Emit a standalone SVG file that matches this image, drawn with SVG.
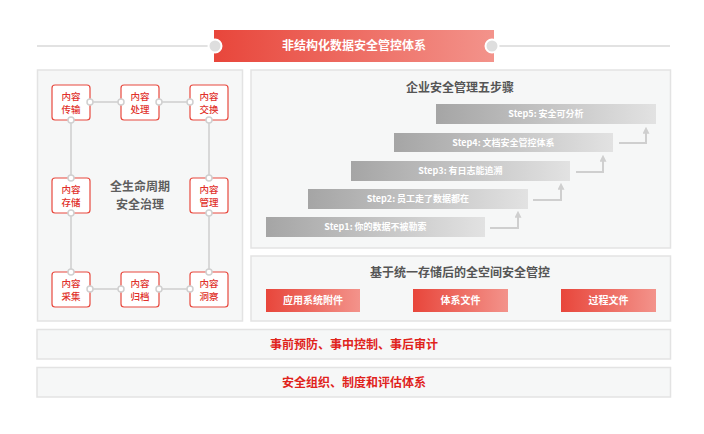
<svg xmlns="http://www.w3.org/2000/svg" width="704" height="434" viewBox="0 0 704 434">
<defs>
<linearGradient id="red" x1="0" y1="0" x2="1" y2="0"><stop offset="0" stop-color="#e8463b"/><stop offset="1" stop-color="#f3938b"/></linearGradient>
<linearGradient id="grey" x1="0" y1="0" x2="1" y2="0"><stop offset="0" stop-color="#a5a5a5"/><stop offset="1" stop-color="#e2e2e2"/></linearGradient>
<marker id="arr" viewBox="0 0 8 8" refX="2" refY="4" markerWidth="7" markerHeight="7" markerUnits="userSpaceOnUse" orient="auto"><path d="M0,0 L8,4 L0,8 z" fill="#cfcfcf"/></marker>
<style>
.panel{fill:#f6f7f7;stroke:#e3e3e3;stroke-width:1.5}
.node{fill:#fff;stroke:#e8493e;stroke-width:1.2}
.nt{font-family:"Noto Sans CJK SC","Noto Sans",sans-serif;font-size:9.5px;fill:#e0302a;text-anchor:middle;font-weight:500}
.con{stroke:#d8d8d8;stroke-width:2;fill:none}
.dot{fill:#fff;stroke:#d0d0d0;stroke-width:1.5}
.wt{font-family:"Noto Sans CJK SC","Noto Sans",sans-serif;font-size:10px;fill:#fff;text-anchor:middle;font-weight:bold}
.st{font-family:"Noto Sans CJK SC","Noto Sans",sans-serif;font-size:9px;fill:#fff;text-anchor:middle;font-weight:bold}
.gt{font-family:"Noto Sans CJK SC","Noto Sans",sans-serif;font-size:12px;fill:#555;text-anchor:middle;font-weight:bold}
.rt{font-family:"Noto Sans CJK SC","Noto Sans",sans-serif;font-size:12px;fill:#e0231c;text-anchor:middle;font-weight:bold}
.arw{stroke:#cfcfcf;stroke-width:2;fill:none}
</style>
</defs>
<rect width="704" height="434" fill="#fff"/>
<g id="title">
<line x1="37" y1="46" x2="670" y2="46" stroke="#e2e2e2" stroke-width="2"/>
<rect x="214" y="30" width="280" height="32" fill="url(#red)"/>
<circle cx="215" cy="46" r="6.5" fill="#dedede" stroke="#fff" stroke-width="2"/>
<circle cx="492" cy="46" r="6.5" fill="#dedede" stroke="#fff" stroke-width="2"/>
<text x="354" y="50" class="wt" style="font-size:12px">非结构化数据安全管控体系</text>
</g>
<g id="lifecycle-panel">
<rect x="37.5" y="70" width="205" height="251" class="panel"/>
<text x="140" y="191" class="gt" style="fill:#5e5e5e">全生命周期</text>
<text x="140" y="209" class="gt" style="fill:#5e5e5e">安全治理</text>
</g>
<g id="connectors">
<line x1="90" y1="102" x2="121" y2="102" class="con"/>
<line x1="159" y1="102" x2="190" y2="102" class="con"/>
<line x1="71" y1="120" x2="71" y2="178" class="con"/>
<line x1="209" y1="120" x2="209" y2="178" class="con"/>
<line x1="71" y1="213" x2="71" y2="272" class="con"/>
<line x1="209" y1="213" x2="209" y2="272" class="con"/>
<line x1="90" y1="289" x2="121" y2="289" class="con"/>
<line x1="159" y1="289" x2="190" y2="289" class="con"/>
</g>
<g id="n-transfer"><rect x="52" y="85" width="38" height="35" rx="3" class="node"/><text x="71" y="100" class="nt">内容</text><text x="71" y="113" class="nt">传输</text></g>
<g id="n-process"><rect x="121" y="85" width="38" height="35" rx="3" class="node"/><text x="140" y="100" class="nt">内容</text><text x="140" y="113" class="nt">处理</text></g>
<g id="n-exchange"><rect x="190" y="85" width="38" height="35" rx="3" class="node"/><text x="209" y="100" class="nt">内容</text><text x="209" y="113" class="nt">交换</text></g>
<g id="n-store"><rect x="52" y="178" width="38" height="35" rx="3" class="node"/><text x="71" y="193" class="nt">内容</text><text x="71" y="206" class="nt">存储</text></g>
<g id="n-manage"><rect x="190" y="178" width="38" height="35" rx="3" class="node"/><text x="209" y="193" class="nt">内容</text><text x="209" y="206" class="nt">管理</text></g>
<g id="n-collect"><rect x="52" y="272" width="38" height="35" rx="3" class="node"/><text x="71" y="287" class="nt">内容</text><text x="71" y="300" class="nt">采集</text></g>
<g id="n-archive"><rect x="121" y="272" width="38" height="35" rx="3" class="node"/><text x="140" y="287" class="nt">内容</text><text x="140" y="300" class="nt">归档</text></g>
<g id="n-insight"><rect x="190" y="272" width="38" height="35" rx="3" class="node"/><text x="209" y="287" class="nt">内容</text><text x="209" y="300" class="nt">洞察</text></g>
<g id="connector-dots">
<circle cx="90" cy="102" r="3" class="dot"/><circle cx="121" cy="102" r="3" class="dot"/>
<circle cx="159" cy="102" r="3" class="dot"/><circle cx="190" cy="102" r="3" class="dot"/>
<circle cx="71" cy="120" r="3" class="dot"/><circle cx="71" cy="178" r="3" class="dot"/>
<circle cx="209" cy="120" r="3" class="dot"/><circle cx="209" cy="178" r="3" class="dot"/>
<circle cx="71" cy="213" r="3" class="dot"/><circle cx="71" cy="272" r="3" class="dot"/>
<circle cx="209" cy="213" r="3" class="dot"/><circle cx="209" cy="272" r="3" class="dot"/>
<circle cx="90" cy="289" r="3" class="dot"/><circle cx="121" cy="289" r="3" class="dot"/>
<circle cx="159" cy="289" r="3" class="dot"/><circle cx="190" cy="289" r="3" class="dot"/>
</g>
<g id="steps-panel">
<rect x="251" y="70" width="419.5" height="178" class="panel"/>
<text x="460" y="92" class="gt">企业安全管理五步骤</text>
<rect x="436" y="104" width="220" height="20" fill="url(#grey)"/><text x="546" y="117" class="st">Step5: 安全可分析</text>
<rect x="394" y="133" width="219" height="19" fill="url(#grey)"/><text x="503.5" y="145.5" class="st">Step4: 文档安全管控体系</text>
<rect x="351" y="161" width="219" height="20" fill="url(#grey)"/><text x="460.5" y="174" class="st">Step3: 有日志能追溯</text>
<rect x="308" y="189" width="220" height="20" fill="url(#grey)"/><text x="418" y="202" class="st">Step2: 员工走了数据都在</text>
<rect x="266" y="217" width="219" height="20" fill="url(#grey)"/><text x="375.5" y="230" class="st">Step1: 你的数据不被勒索</text>
<path d="M490,228 H518 V216" class="arw" marker-end="url(#arr)"/>
<path d="M533,200 H561 V188" class="arw" marker-end="url(#arr)"/>
<path d="M576,172 H603 V160" class="arw" marker-end="url(#arr)"/>
<path d="M619,143 H646 V132" class="arw" marker-end="url(#arr)"/>
</g>
<g id="storage-panel">
<rect x="251" y="256" width="419.5" height="65" class="panel"/>
<text x="460" y="277" class="gt">基于统一存储后的全空间安全管控</text>
<rect x="266" y="289" width="94" height="23" fill="url(#red)"/><text x="313" y="304" class="wt">应用系统附件</text>
<rect x="413" y="289" width="95" height="23" fill="url(#red)"/><text x="460.5" y="304" class="wt">体系文件</text>
<rect x="561" y="289" width="95" height="23" fill="url(#red)"/><text x="608.5" y="304" class="wt">过程文件</text>
</g>
<g id="bar-control">
<rect x="37" y="329.5" width="633.5" height="29.5" class="panel"/>
<text x="354" y="349" class="rt">事前预防、事中控制、事后审计</text>
</g>
<g id="bar-org">
<rect x="37" y="367.5" width="633.5" height="29.5" class="panel"/>
<text x="354" y="387" class="rt">安全组织、制度和评估体系</text>
</g>
</svg>
